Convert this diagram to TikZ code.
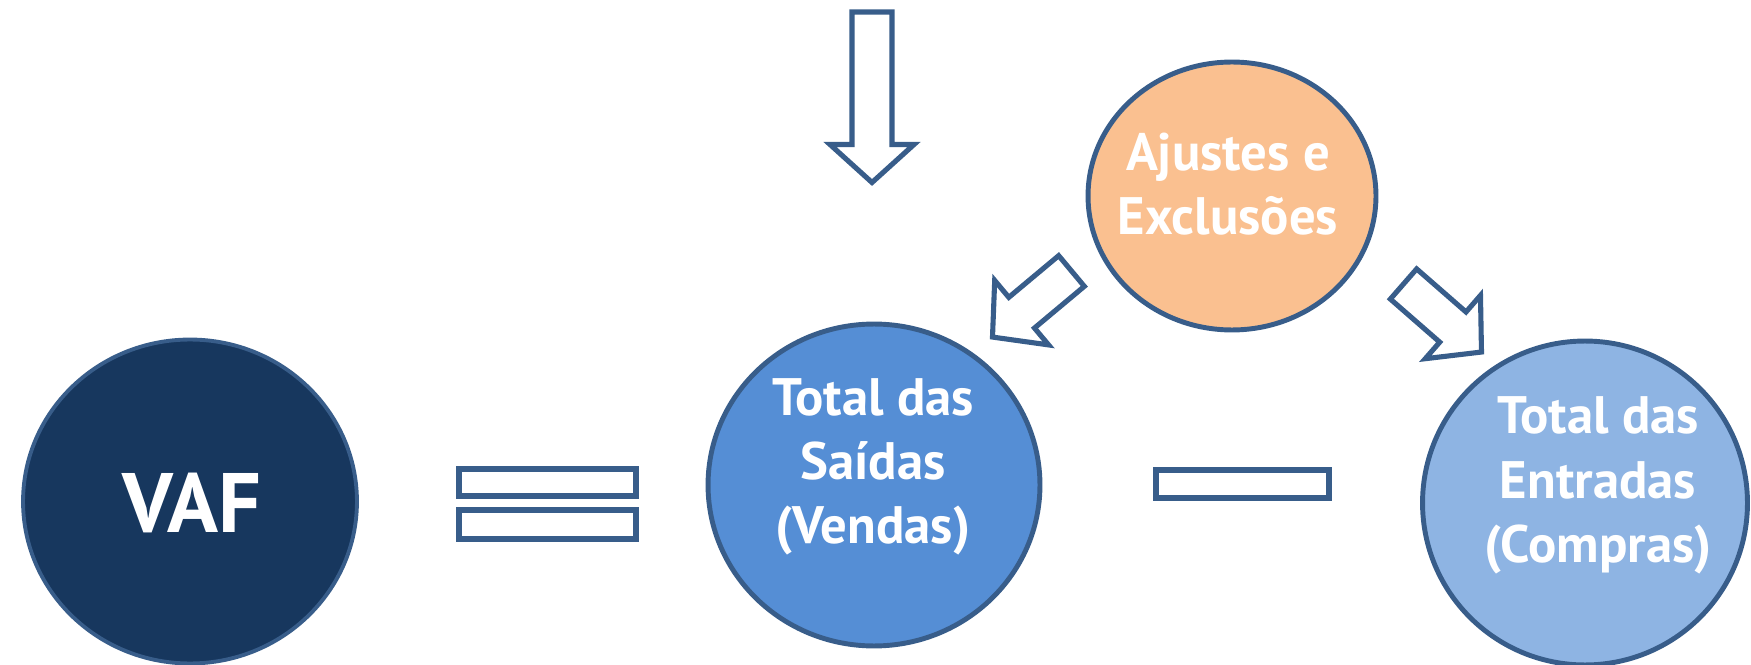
\documentclass[tikz,border=0pt]{standalone}
\usepackage{fontspec}
\setmainfont{PT Sans}
\usetikzlibrary{shapes.geometric}
\definecolor{contorno}{HTML}{385D8A}
\definecolor{vafcor}{HTML}{17375E}
\definecolor{saidacor}{HTML}{558ED5}
\definecolor{entradacor}{HTML}{8EB4E3}
\definecolor{ajustecor}{HTML}{FAC090}
\tikzset{
    bola/.style={ellipse, draw=contorno, line width=2.8pt, inner sep=0pt},
    texto/.style={text=white, inner sep=0pt, align=center, font=\bfseries\fontsize{30}{36.6}\selectfont},
    barra/.style={draw=contorno, line width=2.9pt, fill=white},
    pics/seta/.style={code={
        \draw [barra, line join=miter] (0,-20) -- (#1-38,-20) -- (#1-38,-42) -- (#1,0)
            -- (#1-38,42) -- (#1-38,20) -- (0,20) -- cycle;
    }}
}
\begin{document}
\begin{tikzpicture}[x=0.02cm, y=-0.02cm]
                        \useasboundingbox (0,0) rectangle (1751,665);
                        %\draw [help lines, step=50] (0,0) grid (1751,665);
                        \node [bola, fill=vafcor, line width=2.2pt, minimum width=6.68cm, minimum height=6.48cm] (vaf) at (190,501.5) {};
                        \node [bola, fill=saidacor, minimum width=6.64cm, minimum height=6.44cm] (saidas) at (874,485) {};
                        \node [bola, fill=entradacor, minimum width=6.5cm, minimum height=6.48cm] (entradas) at (1585,503) {};
                        \node [bola, fill=ajustecor, minimum width=5.76cm, minimum height=5.36cm] (ajustes) at (1232,196) {};

                        \node [texto, anchor=base, font=\bfseries\fontsize{48}{56}\selectfont] (vaf-txt) at (192,532) {VAF};
                        \node [texto] (saidas-txt) at (873,467) {Total das\\Saídas\\(Vendas)};
                        \node [texto] (entradas-txt) at (1598,485.5) {Total das\\Entradas\\(Compras)};
                        \node [texto] (ajustes-txt) at (1228,184) {Ajustes e\\Exclusões};

                        % igual e menos
                        \draw [barra] (459,469) rectangle (636,496);
                        \draw [barra] (459,510) rectangle (636,539);
                        \draw [barra] (1156,470) rectangle (1329,498);

                        % setas
                        \pic [rotate=-90] at (872,12) {seta=170.5};
                        \pic [rotate=-140.1] at (1071.5,271) {seta=103};
                        \pic [rotate=-41.1] at (1403.5,284) {seta=103.5};
                    \end{tikzpicture}
\end{document}
